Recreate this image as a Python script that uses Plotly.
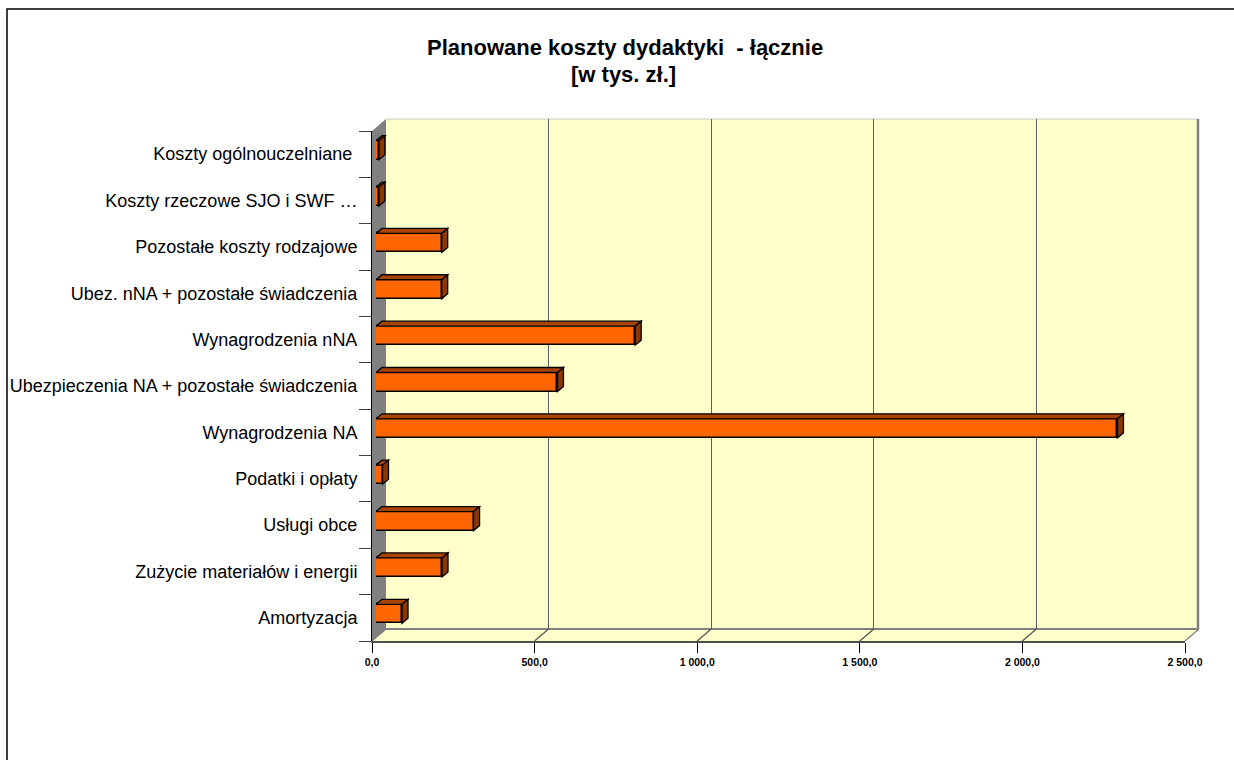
import plotly.graph_objects as go

# ---------------- data ----------------
categories = [
    "Amortyzacja",
    "Zużycie materiałów i energii",
    "Usługi obce",
    "Podatki i opłaty",
    "Wynagrodzenia NA",
    "Ubezpieczenia NA + pozostałe świadczenia",
    "Wynagrodzenia nNA",
    "Ubez. nNA + pozostałe świadczenia",
    "Pozostałe koszty rodzajowe",
    "Koszty rzeczowe SJO i SWF …",
    "Koszty ogólnouczelniane ",
]
values = [80, 203, 300, 20, 2280, 558, 797, 202, 202, 9, 9]
x_tickvals = [0, 500, 1000, 1500, 2000, 2500]
x_ticktext = ["0,0", "500,0", "1 000,0", "1 500,0", "2 000,0", "2 500,0"]
title_lines = ["Planowane koszty dydaktyki  - łącznie", "[w tys. zł.]"]

# ---------------- geometry (pixels) ----------------
FIG_W, FIG_H = 1234, 760
PL, PR, PT, PB = 372, 1199, 119, 641
PW, PH = PR - PL, PB - PT
DEPTH_X, DEPTH_Y = 14, 12
FRONT_W, FRONT_H = 813, PH - DEPTH_Y
BAR_OFF_X, BAR_OFF_Y = 4, 4
BAR_DX, BAR_DY = 6, 5
BAR_WIDTH = 0.41
XMAX = 2500

def px(x):
    return (x - PL) / PW

def py(y):
    return (PB - y) / PH

FONT = "Arial, Liberation Sans, sans-serif"
FRONT_C = "#FF6600"
TOP_C = "#A84400"
SIDE_C = "#8A3800"
WALL_C = "#FFFFCC"
GRAY = "#808080"

fig = go.Figure()

# back wall subplot (x, y) - gridlines
fig.add_trace(go.Scatter(x=[None], y=[None], xaxis="x", yaxis="y",
                         showlegend=False, hoverinfo="skip"))
# front subplot (x2, y2) - category labels and value ticks
fig.add_trace(go.Scatter(x=[0] * len(categories), y=categories, xaxis="x2", yaxis="y2",
                         mode="markers", marker=dict(opacity=0),
                         showlegend=False, hoverinfo="skip"))
# bars subplot (x3, y3)
ypos = list(range(len(categories)))
fig.add_trace(go.Bar(x=values, y=ypos, orientation="h", xaxis="x3", yaxis="y3",
                     width=BAR_WIDTH, marker=dict(color=FRONT_C, line=dict(color="black", width=1.5)),
                     showlegend=False, hoverinfo="skip"))

shapes = []
# walls (paper coordinates, below everything)
back_l, back_b = PL + DEPTH_X, PB - DEPTH_Y
shapes.append(dict(type="rect", xref="paper", yref="paper", layer="below",
                   x0=px(back_l), x1=px(PR), y0=py(back_b), y1=py(PT),
                   fillcolor=WALL_C, line=dict(width=0)))
shapes.append(dict(type="path", xref="paper", yref="paper", layer="below",
                   path=f"M{px(PL)},{py(PB)} L{px(PL+FRONT_W)},{py(PB)} L{px(PR)},{py(back_b)} L{px(back_l)},{py(back_b)} Z",
                   fillcolor=WALL_C, line=dict(width=0)))
shapes.append(dict(type="path", xref="paper", yref="paper", layer="below",
                   path=f"M{px(PL)},{py(PB)} L{px(PL)},{py(PB-FRONT_H)} L{px(back_l)},{py(PT)} L{px(back_l)},{py(back_b)} Z",
                   fillcolor=GRAY, line=dict(width=0)))
# wall edges
shapes.append(dict(type="line", xref="paper", yref="paper", layer="above",
                   x0=px(PR - 1), x1=px(PR - 1), y0=py(back_b), y1=py(PT),
                   line=dict(color=GRAY, width=2.5)))
shapes.append(dict(type="line", xref="paper", yref="paper", layer="below",
                   x0=px(back_l), x1=px(PR), y0=py(PT), y1=py(PT),
                   line=dict(color="#C8C8C8", width=1)))
shapes.append(dict(type="line", xref="paper", yref="paper", layer="below",
                   x0=px(back_l), x1=px(PR), y0=py(back_b), y1=py(back_b),
                   line=dict(color=GRAY, width=2)))
# floor diagonals from each value tick
for v in x_tickvals:
    fx = PL + v / XMAX * FRONT_W
    shapes.append(dict(type="line", xref="paper", yref="paper", layer="below",
                       x0=px(fx), y0=py(PB), x1=px(fx + DEPTH_X), y1=py(back_b),
                       line=dict(color="#505050" if 0 < v < XMAX else GRAY, width=1.2)))

# 3D faces of bars (data coordinates of bar axes)
dx = BAR_DX * XMAX / FRONT_W
dy = BAR_DY / (FRONT_H / len(categories))
h = BAR_WIDTH / 2
for i, v in zip(ypos, values):
    shapes.append(dict(type="path", xref="x3", yref="y3", layer="above",
                       path=f"M0,{i+h} L{v},{i+h} L{v+dx},{i+h+dy} L{dx},{i+h+dy} Z",
                       fillcolor=TOP_C, line=dict(color="black", width=1.3)))
    shapes.append(dict(type="path", xref="x3", yref="y3", layer="above",
                       path=f"M{v},{i-h} L{v},{i+h} L{v+dx},{i+h+dy} L{v+dx},{i-h+dy} Z",
                       fillcolor=SIDE_C, line=dict(color="black", width=1.3)))

# outer chart border
shapes.append(dict(type="rect", xref="paper", yref="paper", layer="above",
                   x0=px(7), x1=px(1245), y0=py(775), y1=py(9),
                   line=dict(color="black", width=1.5), fillcolor="rgba(0,0,0,0)"))

annotations = [
    dict(text=f"<b>{title_lines[0].replace('  ', ' &nbsp;')}</b>", xref="paper", yref="paper",
         x=px(625), y=py(48), xanchor="center", yanchor="middle", showarrow=False,
         font=dict(family=FONT, size=22, color="black")),
    dict(text=f"<b>{title_lines[1]}</b>", xref="paper", yref="paper",
         x=px(623), y=py(75), xanchor="center", yanchor="middle", showarrow=False,
         font=dict(family=FONT, size=22, color="black")),
]

fig.update_layout(
    width=FIG_W, height=FIG_H,
    margin=dict(l=PL, r=FIG_W - PR, t=PT, b=FIG_H - PB, pad=0),
    paper_bgcolor="white", plot_bgcolor="rgba(0,0,0,0)",
    font=dict(family=FONT, color="black"),
    showlegend=False,
    shapes=shapes, annotations=annotations,
    xaxis=dict(domain=[DEPTH_X / PW, 1], anchor="y", range=[0, XMAX], fixedrange=True,
               tickmode="array", tickvals=x_tickvals, showticklabels=False, ticks="",
               showgrid=True, gridcolor="#606060", gridwidth=1, zeroline=False, showline=False),
    yaxis=dict(domain=[DEPTH_Y / PH, 1], anchor="x", range=[0, 1], fixedrange=True,
               showticklabels=False, ticks="", showgrid=False, zeroline=False, showline=False),
    xaxis2=dict(domain=[0, FRONT_W / PW], anchor="y2", range=[0, XMAX], fixedrange=True,
                tickmode="array", tickvals=x_tickvals, ticktext=x_ticktext,
                ticks="outside", ticklen=10, tickcolor="black", tickwidth=1,
                tickfont=dict(family=FONT, size=10.5, color="black", weight="bold"),
                showgrid=False, zeroline=False, showline=True, linecolor="#505050", linewidth=2,
                automargin=False),
    yaxis2=dict(domain=[0, FRONT_H / PH], anchor="x2", type="category",
                categoryorder="array", categoryarray=categories,
                range=[-0.5, len(categories) - 0.5], fixedrange=True,
                tickson="boundaries", ticks="outside", ticklen=12, tickcolor="#404040", tickwidth=1,
                ticklabelstandoff=10,
                tickfont=dict(family=FONT, size=18, color="black"),
                showgrid=False, zeroline=False, showline=True, linecolor="black", linewidth=1,
                automargin=False),
    xaxis3=dict(domain=[BAR_OFF_X / PW, (BAR_OFF_X + FRONT_W) / PW], anchor="y3",
                range=[0, XMAX], fixedrange=True, visible=False),
    yaxis3=dict(domain=[BAR_OFF_Y / PH, (BAR_OFF_Y + FRONT_H) / PH], anchor="x3",
                range=[-0.5, len(categories) - 0.5], fixedrange=True, visible=False),
    bargap=0,
)

fig.write_html("out.html", config={"displayModeBar": False},
               post_script="document.body.style.margin='0';document.body.style.overflow='hidden';")
